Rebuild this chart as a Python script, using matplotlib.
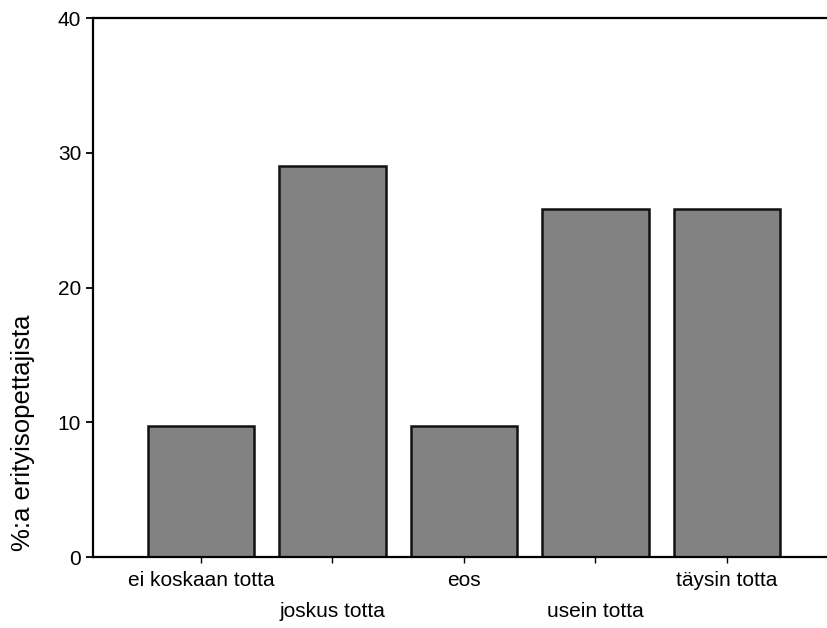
import numpy as np
import matplotlib.pyplot as plt

plt.rcParams['font.family'] = ['Liberation Sans', 'DejaVu Sans']

categories = ['ei koskaan totta', 'joskus totta', 'eos', 'usein totta', 'täysin totta']
values = [9.7, 29.0, 9.7, 25.8, 25.8]
yticks = [0, 10, 20, 30, 40]

fig = plt.figure(figsize=(8.27, 6.28), dpi=100)
ax = fig.add_axes([0.1125, 0.113, 0.8875, 0.858])

x = np.arange(len(categories))
ax.bar(x, values, width=0.81, color='#828282', edgecolor='#111111', linewidth=1.8)

# staggered labels: every second one drops to a second row
labels = [c if i % 2 == 0 else '\n' + c for i, c in enumerate(categories)]
ax.set_xticks(x)
ax.set_xticklabels(labels, fontsize=15, linespacing=1.8)
ax.set_yticks(yticks)
ax.tick_params(axis='y', labelsize=15, length=5, width=1.3, direction='out')
ax.tick_params(axis='x', length=4, width=1.0, direction='out', pad=6)

ax.set_xlim(-0.82, 4.76)
ax.set_ylim(0, 40)
fig.text(23 / 827, 1 - 433 / 628, '%:a erityisopettajista', fontsize=18.5,
         rotation=90, ha='center', va='center')

ax.spines['right'].set_visible(False)
for s in ['left', 'top', 'bottom']:
    ax.spines[s].set_linewidth(1.6)

fig.savefig('out.png', dpi=100)
